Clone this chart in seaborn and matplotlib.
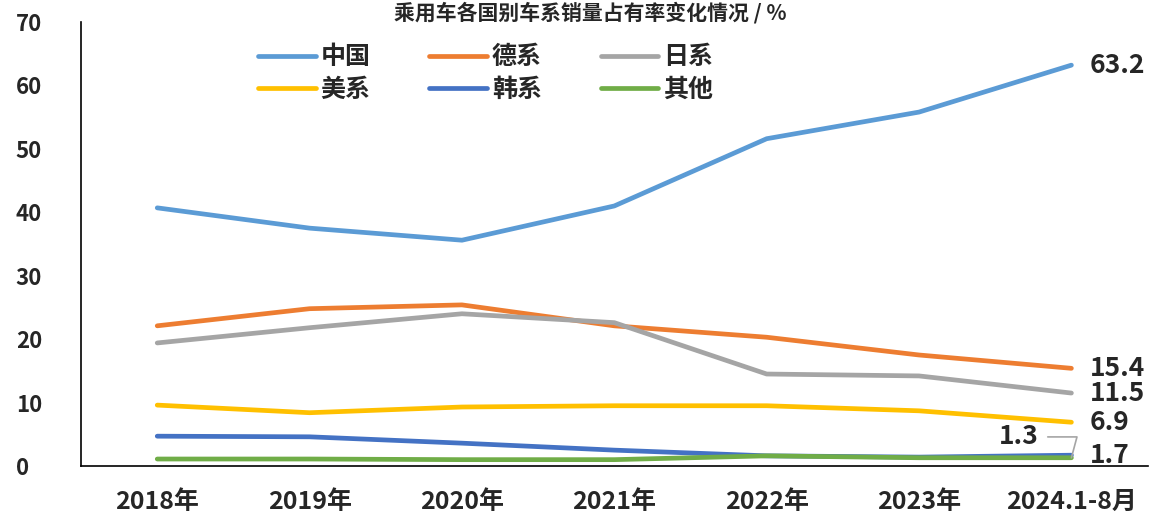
import matplotlib
matplotlib.use("Agg")
import matplotlib.pyplot as plt
import seaborn as sns
import pandas as pd

years = ["2018年", "2019年", "2020年", "2021年", "2022年", "2023年", "2024.1-8月"]
series_names = ["中国", "德系", "日系", "美系", "韩系", "其他"]
china = [40.7, 37.5, 35.6, 41.0, 51.6, 55.8, 63.2]
german = [22.1, 24.8, 25.4, 22.1, 20.3, 17.5, 15.4]
japan = [19.4, 21.8, 24.0, 22.6, 14.5, 14.2, 11.5]
usa = [9.6, 8.4, 9.3, 9.5, 9.5, 8.7, 6.9]
korea = [4.7, 4.6, 3.6, 2.5, 1.6, 1.4, 1.7]
other = [1.1, 1.1, 1.0, 1.0, 1.6, 1.3, 1.3]
colors = ["#5B9BD5", "#ED7D31", "#A5A5A5", "#FFC000", "#4472C4", "#70AD47"]
title = "乘用车各国别车系销量占有率变化情况 / %"

sns.set_style("white")
plt.rcParams['font.family'] = ['Noto Sans CJK SC', 'DejaVu Sans']
W = "heavy"

values = [china, german, japan, usa, korea, other]
df = pd.DataFrame({
    "year": years * len(series_names),
    "idx": list(range(len(years))) * len(series_names),
    "series": [s for s in series_names for _ in years],
    "value": [v for vals in values for v in vals],
})

fig = plt.figure(figsize=(11.58, 5.18), dpi=100)
ax = fig.add_axes([0.070, 0.1004, 0.921, 0.8571])
sns.lineplot(data=df, x="idx", y="value", hue="series", hue_order=series_names,
             palette=colors, linewidth=3.4, ax=ax, sort=False, legend=True)
for line in ax.get_lines():
    line.set_solid_capstyle("round")

ax.set_xlim(-0.5, len(years) - 0.5)
ax.set_ylim(0, 70)
ax.set_yticks(range(0, 71, 10))
ax.set_xticks(range(len(years)))
ax.set_xticklabels(years, fontsize=18, fontweight=W)
for lab in ax.get_yticklabels():
    lab.set_fontsize(16)
    lab.set_fontweight(W)
    lab.set_horizontalalignment("left")
ax.tick_params(axis="both", length=0)
ax.tick_params(axis="y", pad=47)
ax.tick_params(axis="x", pad=17)
ax.set_xlabel("")
ax.set_ylabel("")
for s in ["top", "right"]:
    ax.spines[s].set_visible(False)
for s in ["left", "bottom"]:
    ax.spines[s].set_color("black")
    ax.spines[s].set_linewidth(1.2)

# end labels
last = len(years) - 1
for vals in [china, german, japan, usa, korea]:
    ax.annotate(f"{vals[-1]:.1f}", xy=(last, vals[-1]), xytext=(13, 0), textcoords="offset points",
                fontsize=19, fontweight=W, va="center", ha="left", annotation_clip=False)
ax.annotate(f"{other[-1]:.1f}", xy=(last, other[-1]), xytext=(-52, 15), textcoords="offset points",
            fontsize=19, fontweight=W, va="center", ha="left",
            arrowprops=dict(arrowstyle="-", color="#A5A5A5", lw=1.2,
                            connectionstyle="angle,angleA=0,angleB=75,rad=0",
                            shrinkA=4, shrinkB=0))

handles, labels = ax.get_legend_handles_labels()
order = [0, 3, 1, 4, 2, 5]
leg = ax.legend([handles[i] for i in order], [labels[i] for i in order],
                loc="upper left", bbox_to_anchor=(0.145, 0.998), ncol=3,
                frameon=False, prop={"weight": W, "size": 18}, handlelength=2.3,
                columnspacing=2.35, handletextpad=0.2, labelspacing=0.33)
for h in leg.get_lines():
    h.set_linewidth(3.4)
    h.set_solid_capstyle("round")

fig.text(0.51, 0.997, title, ha="center", va="top", fontsize=15, fontweight=W)

fig.savefig("out.png", dpi=100)
